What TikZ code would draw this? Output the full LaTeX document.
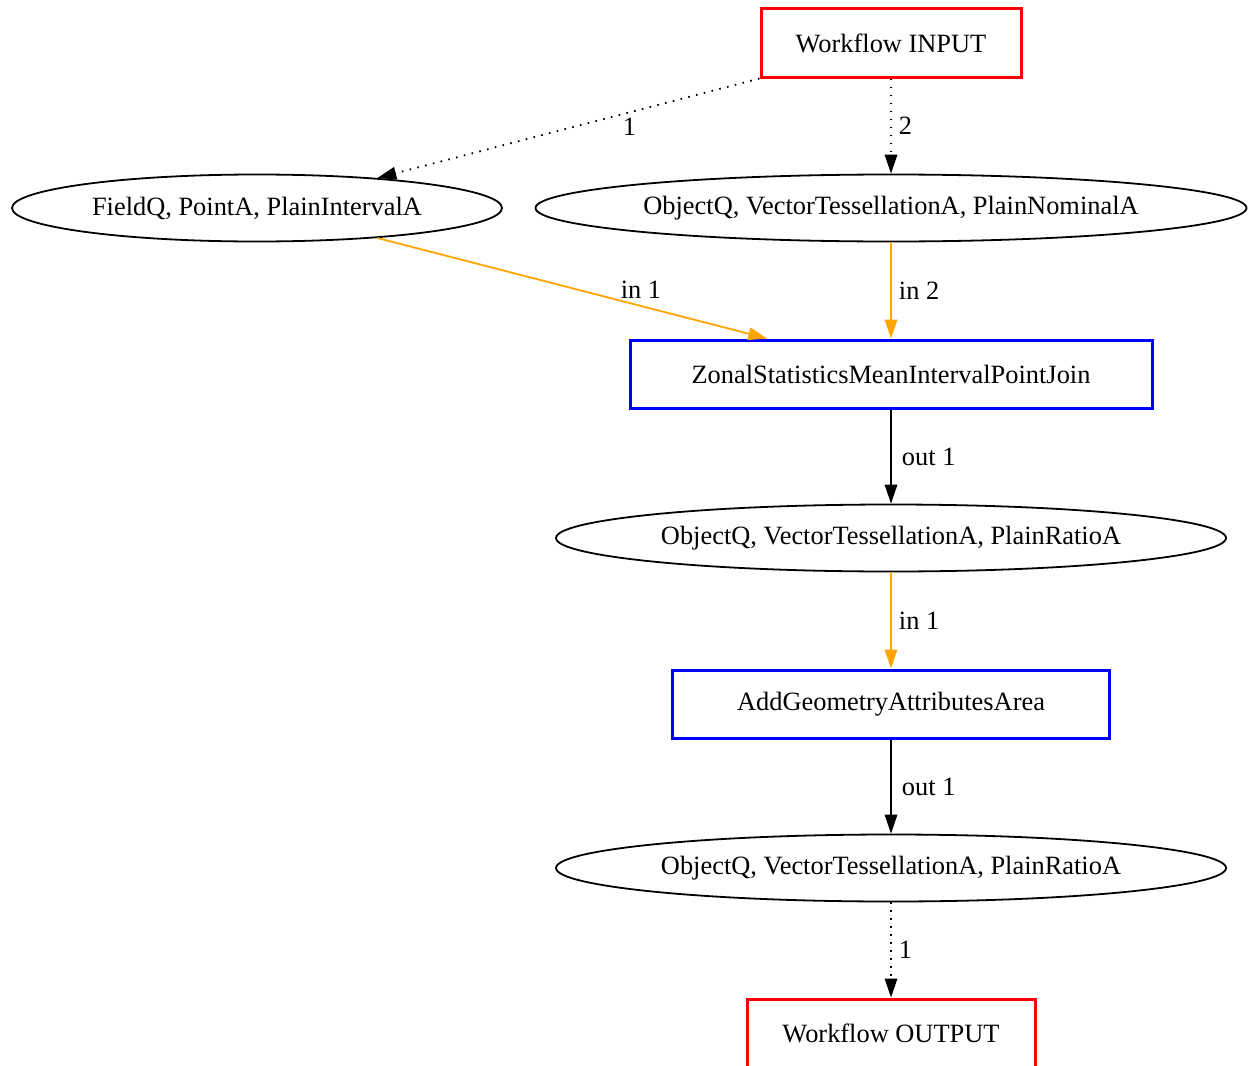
\documentclass[tikz,border=0pt]{standalone}
\usepackage{fontspec}
\setmainfont{Liberation Serif}
\usetikzlibrary{shapes.geometric,arrows.meta}
\definecolor{feedorange}{RGB}{255,165,0}
\definecolor{iored}{RGB}{255,0,0}
\definecolor{opblue}{RGB}{0,0,255}

\begin{document}
\begin{tikzpicture}[x=1pt,y=-1pt,
  font=\fontsize{26.4}{30}\selectfont,
  iobox/.style={rectangle, draw=iored, line width=3pt, inner sep=0pt, minimum height=68pt},
  opbox/.style={rectangle, draw=opblue, line width=3pt, inner sep=0pt, minimum height=68pt},
  dtype/.style={ellipse, draw, line width=1.8pt, inner sep=0pt, minimum height=67pt},
  flow/.style={line width=1.8pt, -{Triangle[length=19pt,width=12.5pt]}},
  ctl/.style={flow, dash pattern=on 1.6pt off 6.4pt},
  feed/.style={flow, draw=feedorange},
  side/.style={inner sep=0pt, anchor=west, xshift=7pt}]

\useasboundingbox (0,0) rectangle (1249,1065);

% nodes
\node[iobox, minimum width=260pt] (in) at (891,43) {Workflow INPUT};
\node[dtype, minimum width=490pt] (field) at (257,208) {FieldQ, PointA, PlainIntervalA};
\node[dtype, minimum width=711pt] (nominal) at (891,208) {ObjectQ, VectorTessellationA, PlainNominalA};
\node[opbox, minimum width=522pt] (zonal) at (891,374) {ZonalStatisticsMeanIntervalPointJoin};
\node[dtype, minimum width=670pt] (ratioA) at (891,538) {ObjectQ, VectorTessellationA, PlainRatioA};
\node[opbox, minimum width=437pt] (area) at (891,704) {AddGeometryAttributesArea};
\node[dtype, minimum width=670pt] (ratioB) at (891,868) {ObjectQ, VectorTessellationA, PlainRatioA};
\node[iobox, minimum width=288pt] (out) at (891,1033) {Workflow OUTPUT};

% connectors
\draw[ctl] (in.south west) -- node[pos=.34, yshift=-14pt] {1} (field.14.4);
\draw[ctl] (in) -- node[side] {2} (nominal);
\draw[feed] (field.-14.4) -- node[pos=.684, yshift=17pt, xshift=-3pt] {in 1} (zonal.164.9);
\draw[feed] (nominal) -- node[side] {in 2} (zonal);
\draw[flow] (zonal) -- node[side, xshift=3pt] {out 1} (ratioA);
\draw[feed] (ratioA) -- node[side] {in 1} (area);
\draw[flow] (area) -- node[side, xshift=3pt] {out 1} (ratioB);
\draw[ctl] (ratioB) -- node[side] {1} (out);
\end{tikzpicture}
\end{document}
